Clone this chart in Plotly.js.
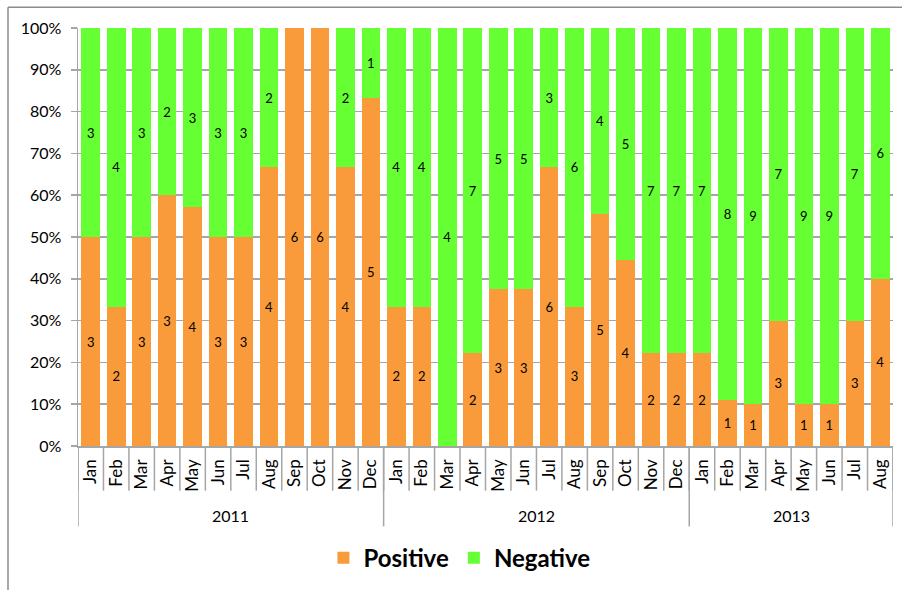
<!DOCTYPE html>
<html>
<head>
<meta charset="utf-8">
<script src="https://cdn.plot.ly/plotly-3.0.1.min.js"></script>
<style>
html,body{margin:0;padding:0;background:#fff;}
#chart{width:902px;height:590px;}
</style>
</head>
<body>
<div id="chart"></div>
<script>
const months = ["Jan","Feb","Mar","Apr","May","Jun","Jul","Aug","Sep","Oct","Nov","Dec",
                "Jan","Feb","Mar","Apr","May","Jun","Jul","Aug","Sep","Oct","Nov","Dec",
                "Jan","Feb","Mar","Apr","May","Jun","Jul","Aug"];
const years = ["2011","2012","2013"];
const monthsPerYear = [12, 12, 8];
const positive = [3,2,3,3,4,3,3,4,6,6,4,5, 2,2,0,2,3,3,6,3,5,4,2,2, 2,1,1,3,1,1,3,4];
const negative = [3,4,3,2,3,3,3,2,0,0,2,1, 4,4,4,7,5,5,3,6,4,5,7,7, 7,8,9,7,9,9,7,6];

const FONT = "Lato, 'Liberation Sans', sans-serif";
const xs = months.map((m, i) => i);
const lbl = v => v.map(n => n === 0 ? "" : String(n));
const nz = v => v.map(n => n === 0 ? null : n);

const traces = [
  {type: "bar", name: "Positive", x: xs, y: nz(positive), text: lbl(positive),
   marker: {color: "#F99B3A", line: {width: 0}}, textposition: "inside", insidetextanchor: "middle",
   textangle: 0, textfont: {size: 13, color: "#000", family: FONT}, hoverinfo: "skip"},
  {type: "bar", name: "Negative", x: xs, y: nz(negative), text: lbl(negative),
   marker: {color: "#66FF33", line: {width: 0}}, textposition: "inside", insidetextanchor: "middle",
   textangle: 0, textfont: {size: 13, color: "#000", family: FONT}, hoverinfo: "skip"}
];

const plotH = 421;
const px2py = p => -p / plotH;

const shapes = [];
const annotations = [];
for (let i = 0; i <= months.length; i++) {
  shapes.push({type: "line", xref: "x", yref: "paper", x0: i - 0.5, x1: i - 0.5,
    y0: 0, y1: px2py(45), line: {color: "#A6A6A6", width: 1.5}});
}
let start = 0;
years.forEach((yr, k) => {
  const n = monthsPerYear[k];
  shapes.push({type: "line", xref: "x", yref: "paper", x0: start - 0.5, x1: start - 0.5,
    y0: 0, y1: px2py(81), line: {color: "#A6A6A6", width: 1.5}});
  annotations.push({xref: "x", yref: "paper", x: start + (n - 1) / 2, y: px2py(70),
    text: yr, showarrow: false, font: {size: 16, color: "#000", family: FONT},
    xanchor: "center", yanchor: "middle"});
  start += n;
});
shapes.push({type: "line", xref: "x", yref: "paper", x0: start - 0.5, x1: start - 0.5,
  y0: 0, y1: px2py(81), line: {color: "#A6A6A6", width: 1.5}});
shapes.push({type: "line", xref: "paper", yref: "paper", x0: -70/815, x1: -70/815,
  y0: 442/plotH, y1: -0.5, line: {color: "#8C8C8C", width: 1.5}});
shapes.push({type: "line", xref: "paper", yref: "paper", x0: -70/815, x1: 1.1,
  y0: 442/plotH, y1: 442/plotH, line: {color: "#8C8C8C", width: 1.5}});

const layout = {
  width: 902, height: 590,
  margin: {l: 78, r: 9, t: 28, b: 141, pad: 0},
  paper_bgcolor: "#fff", plot_bgcolor: "#fff",
  barmode: "stack", barnorm: "percent", bargap: 0.27,
  font: {family: FONT, color: "#000"},
  showlegend: true,
  legend: {orientation: "h", x: 0.468, xanchor: "center", y: px2py(113), yanchor: "middle",
    font: {size: 24, family: FONT, weight: "bold", color: "#000"}, itemwidth: 30,
    traceorder: "normal"},
  xaxis: {range: [-0.5, months.length - 0.5], tickmode: "array", tickvals: xs, ticktext: months,
    tickangle: -90, ticks: "", showgrid: false, zeroline: false, ticklabelstandoff: 5,
    showline: true, linecolor: "#A6A6A6", linewidth: 1.5,
    tickfont: {size: 17, family: FONT, color: "#000"}, fixedrange: true},
  yaxis: {range: [0, 100], dtick: 10, ticksuffix: "%", ticks: "outside", ticklen: 6,
    tickcolor: "#A6A6A6", tickwidth: 1.5, showline: true, linecolor: "#A6A6A6", linewidth: 1.5,
    showgrid: true, gridcolor: "#A6A6A6", gridwidth: 1.5, zeroline: false, ticklabelstandoff: 6,
    tickfont: {size: 16, family: FONT, color: "#000"}, fixedrange: true},
  shapes: shapes,
  annotations: annotations
};

Plotly.newPlot("chart", traces, layout, {staticPlot: true, displayModeBar: false});
</script>
</body>
</html>
